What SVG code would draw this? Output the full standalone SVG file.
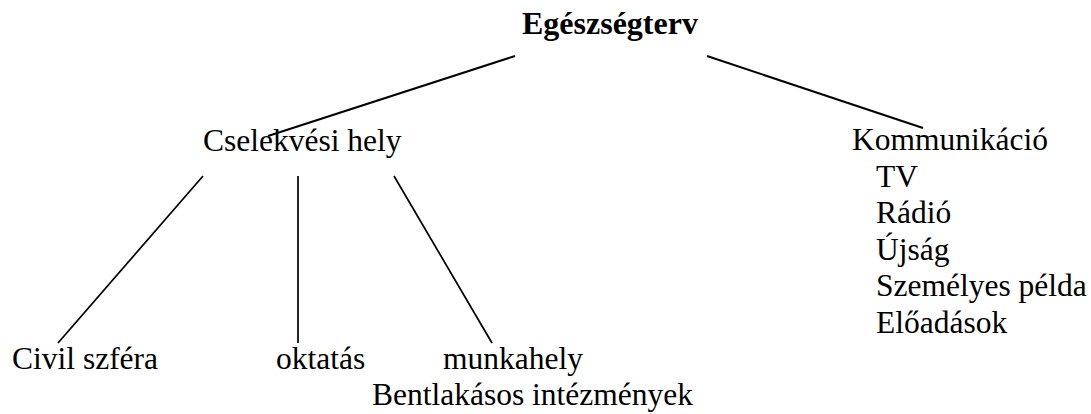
<svg xmlns="http://www.w3.org/2000/svg" width="1091" height="414" viewBox="0 0 1091 414">
<style>
text{font-family:"Liberation Serif","Times New Roman",serif;font-size:31.5px;fill:#000}
.title{font-weight:bold;font-size:32px}
.conn line{stroke:#000;stroke-width:2;fill:none}
.conn .thin{stroke-width:1.7}
</style>
<rect width="1091" height="414" fill="#fff"/>
<g class="conn" id="connectors">
<line x1="515" y1="56" x2="268" y2="136"/>
<line x1="707" y1="56" x2="923" y2="128"/>
<line class="thin" x1="203" y1="176" x2="58" y2="343"/>
<line class="thin" x1="298" y1="176" x2="298" y2="343"/>
<line class="thin" x1="394" y1="176" x2="492" y2="343"/>
</g>
<g id="root"><text class="title" x="522" y="34">Egészségterv</text></g>
<g id="cselekvesi"><text x="203" y="151">Cselekvési hely</text></g>
<g id="kommunikacio">
<text x="852" y="150">Kommunikáció</text>
<text x="876" y="187">TV</text>
<text x="876" y="223">Rádió</text>
<text x="876" y="260">Újság</text>
<text x="876" y="296">Személyes példa</text>
<text x="876" y="333">Előadások</text>
</g>
<g id="civil"><text x="12" y="369">Civil szféra</text></g>
<g id="oktatas"><text x="276" y="369">oktatás</text></g>
<g id="munkahely">
<text x="443" y="369">munkahely</text>
<text x="372" y="405">Bentlakásos intézmények</text>
</g>
</svg>
